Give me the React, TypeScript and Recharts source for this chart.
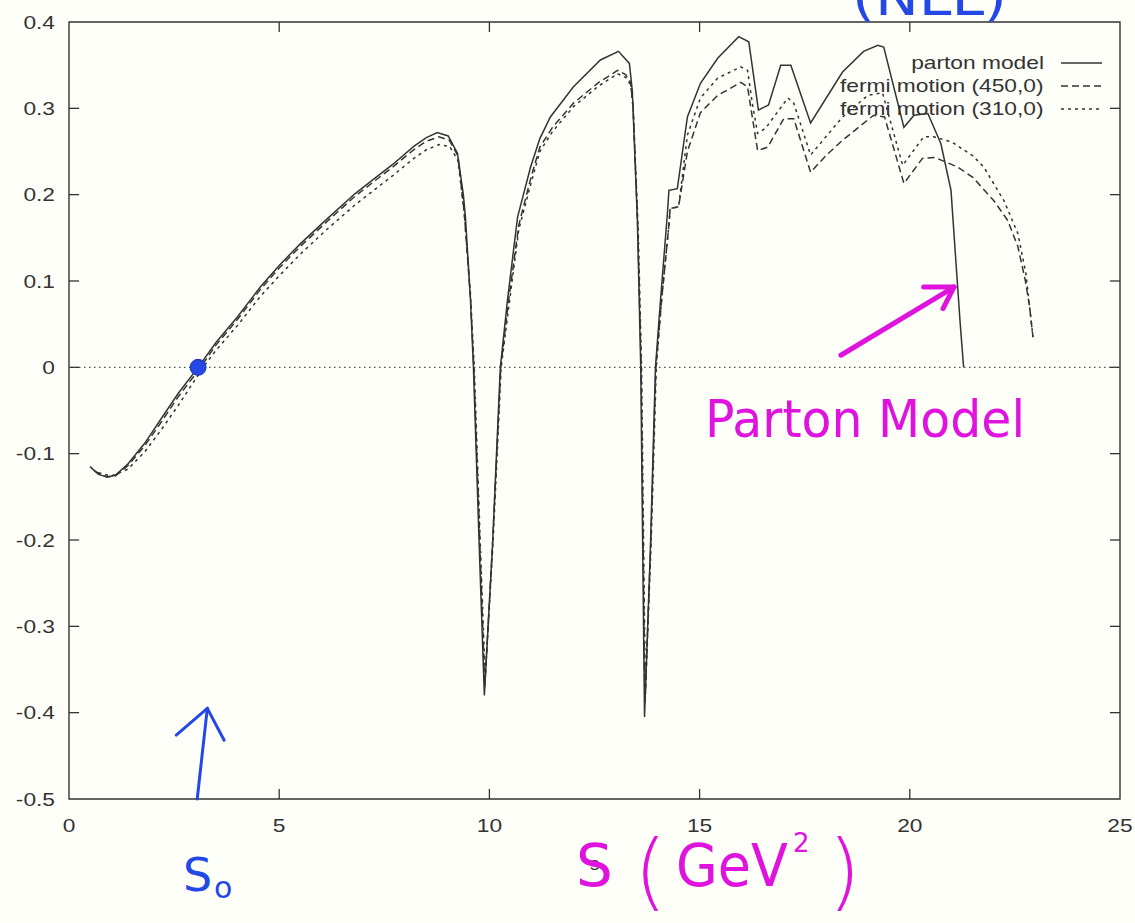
import {
  LineChart,
  Line,
  XAxis,
  YAxis,
  Legend,
  ReferenceArea,
  ReferenceLine,
  ReferenceDot,
} from "recharts";

type Pt = [number, number];

const xTicks = [0, 5, 10, 15, 20, 25];
const yTicks = [-0.5, -0.4, -0.3, -0.2, -0.1, 0, 0.1, 0.2, 0.3, 0.4];

// asymmetry vs s, one [s, value] pair per sample
const partonModel: Pt[] = [
  [0.5, -0.115], [0.7, -0.124], [0.9, -0.127], [1.1, -0.125], [1.4, -0.112],
  [1.8, -0.088], [2.2, -0.059], [2.6, -0.03], [3.07, 0.0], [3.5, 0.029],
  [4.0, 0.058], [4.55, 0.093], [5.0, 0.118], [5.5, 0.143], [6.14, 0.172],
  [6.8, 0.201], [7.3, 0.22], [7.7, 0.235], [8.2, 0.256], [8.5, 0.266],
  [8.76, 0.272], [9.02, 0.268], [9.24, 0.248], [9.38, 0.2], [9.43, 0.174],
  [9.55, 0.078], [9.62, 0.0], [9.76, -0.21], [9.88, -0.38], [10.07, -0.21],
  [10.26, 0.0], [10.43, 0.078], [10.67, 0.174], [10.98, 0.232], [11.2, 0.265],
  [11.45, 0.29], [12.0, 0.325], [12.64, 0.356], [13.07, 0.366], [13.33, 0.352],
  [13.4, 0.32], [13.52, 0.17], [13.6, 0.0], [13.69, -0.405], [13.83, -0.21],
  [13.95, 0.0], [14.07, 0.078], [14.24, 0.182], [14.27, 0.205], [14.47, 0.207],
  [14.71, 0.29], [15.02, 0.329], [15.43, 0.358], [15.93, 0.383], [16.17, 0.377],
  [16.4, 0.298], [16.64, 0.304], [16.93, 0.35], [17.17, 0.35], [17.64, 0.283],
  [18.4, 0.342], [18.9, 0.366], [19.24, 0.373], [19.38, 0.371], [19.86, 0.278],
  [20.1, 0.292], [20.43, 0.294], [20.74, 0.259], [20.98, 0.205], [21.1, 0.12],
  [21.2, 0.05], [21.28, 0.0],
];

const fermi450: Pt[] = [
  [0.6, -0.12], [0.9, -0.127], [1.1, -0.126], [1.4, -0.114], [1.8, -0.091],
  [2.2, -0.063], [2.6, -0.034], [3.1, -0.002], [3.5, 0.026], [4.0, 0.055],
  [4.55, 0.09], [5.0, 0.115], [5.5, 0.14], [6.14, 0.169], [6.8, 0.198],
  [7.3, 0.217], [7.7, 0.232], [8.2, 0.252], [8.5, 0.262], [8.8, 0.267],
  [9.05, 0.263], [9.25, 0.245], [9.4, 0.18], [9.55, 0.08], [9.63, 0.0],
  [9.77, -0.2], [9.89, -0.37], [10.08, -0.2], [10.27, 0.0], [10.45, 0.075],
  [10.7, 0.165], [11.0, 0.222], [11.2, 0.255], [11.5, 0.278], [12.0, 0.306],
  [12.6, 0.33], [13.05, 0.344], [13.24, 0.339], [13.36, 0.33], [13.42, 0.3],
  [13.53, 0.16], [13.61, 0.0], [13.7, -0.39], [13.84, -0.2], [13.96, 0.0],
  [14.1, 0.08], [14.27, 0.165], [14.3, 0.184], [14.5, 0.186], [14.71, 0.25],
  [15.02, 0.295], [15.43, 0.315], [15.98, 0.33], [16.14, 0.325], [16.38, 0.251],
  [16.62, 0.255], [17.0, 0.288], [17.24, 0.288], [17.64, 0.226], [18.0, 0.245],
  [18.4, 0.263], [19.14, 0.292], [19.4, 0.29], [19.86, 0.213], [20.3, 0.242],
  [20.6, 0.243], [21.14, 0.232], [21.5, 0.22], [22.0, 0.193], [22.33, 0.17],
  [22.57, 0.14], [22.75, 0.1], [22.85, 0.07], [22.93, 0.035],
];

const fermi310: Pt[] = [
  [0.7, -0.122], [1.0, -0.126], [1.4, -0.118], [1.8, -0.098], [2.2, -0.072],
  [2.6, -0.044], [3.19, 0.0], [3.5, 0.02], [4.0, 0.048], [4.55, 0.082],
  [5.0, 0.106], [5.5, 0.131], [6.14, 0.16], [6.8, 0.188], [7.3, 0.207],
  [7.7, 0.222], [8.2, 0.242], [8.5, 0.252], [8.8, 0.258], [9.05, 0.256],
  [9.25, 0.24], [9.4, 0.18], [9.55, 0.085], [9.64, 0.0], [9.78, -0.2],
  [9.9, -0.36], [10.09, -0.2], [10.28, 0.0], [10.46, 0.07], [10.7, 0.16],
  [11.0, 0.215], [11.2, 0.25], [11.5, 0.273], [12.0, 0.302], [12.6, 0.326],
  [13.05, 0.34], [13.24, 0.336], [13.36, 0.327], [13.42, 0.3], [13.54, 0.16],
  [13.62, 0.0], [13.71, -0.38], [13.85, -0.2], [13.97, 0.0], [14.1, 0.08],
  [14.27, 0.165], [14.3, 0.184], [14.5, 0.186], [14.71, 0.269], [15.02, 0.312],
  [15.43, 0.335], [15.98, 0.348], [16.14, 0.344], [16.26, 0.304], [16.38, 0.271],
  [16.57, 0.277], [17.1, 0.312], [17.24, 0.306], [17.64, 0.246], [18.4, 0.29],
  [19.0, 0.315], [19.35, 0.318], [19.83, 0.234], [20.33, 0.267], [20.57, 0.267],
  [21.0, 0.261], [21.5, 0.245], [21.76, 0.232], [22.24, 0.193], [22.57, 0.155],
  [22.76, 0.109], [22.93, 0.035],
];

// pen marks drawn over the plot, in (s, value)
const s0Point: Pt = [3.07, 0];
const s0Arrow: Pt[][] = [
  [[3.05, -0.5], [3.29, -0.395]],
  [[2.55, -0.426], [3.29, -0.395]],
  [[3.69, -0.432], [3.29, -0.395]],
];
const partonArrow: Pt[][] = [
  [[18.36, 0.014], [21.05, 0.093]],
  [[20.33, 0.093], [21.05, 0.093]],
  [[20.79, 0.068], [21.05, 0.093]],
];

const series = [
  { name: "parton model", points: partonModel, dash: undefined },
  { name: "fermi motion (450,0)", points: fermi450, dash: "7 4" },
  { name: "fermi motion (310,0)", points: fermi310, dash: "3 4" },
];

const FONT = "'Liberation Sans', Arial, Helvetica, sans-serif";
const INK = "#333";
const BLUE = "#2348e6";
const MAGENTA = "#e012de";
const FONT_SIZE = 18.5;
const STRETCH = 1.23; // the postscript Helvetica runs wide
const TICK_X = 0.24; // inward tick length along s
const TICK_Y = 0.0116; // inward tick length along value

function XTick({ x, y, payload }: any) {
  return (
    <text
      transform={`translate(${x},${y}) scale(${STRETCH},1)`}
      textAnchor="middle"
      dy="0.71em"
      fill={INK}
      fontSize={FONT_SIZE}
      fontFamily={FONT}
    >
      {payload.value}
    </text>
  );
}

function YTick({ x, y, payload }: any) {
  return (
    <text
      transform={`translate(${x},${y}) scale(${STRETCH},1)`}
      textAnchor="end"
      dy="0.355em"
      fill={INK}
      fontSize={FONT_SIZE}
      fontFamily={FONT}
    >
      {payload.value}
    </text>
  );
}

function LegendBox() {
  return (
    <div style={{ fontFamily: FONT, fontSize: FONT_SIZE, color: INK }}>
      {series.map((s) => (
        <div
          key={s.name}
          style={{
            display: "flex",
            justifyContent: "flex-end",
            alignItems: "center",
            height: 23,
          }}
        >
          <span
            style={{
              display: "inline-block",
              whiteSpace: "nowrap",
              transform: `scaleX(${STRETCH})`,
              transformOrigin: "right center",
            }}
          >
            {s.name}
          </span>
          <svg width={41} height={10} style={{ marginLeft: 17 }}>
            <line
              x1={0}
              x2={41}
              y1={5}
              y2={5}
              stroke={INK}
              strokeWidth={1.4}
              strokeDasharray={s.dash}
            />
          </svg>
        </div>
      ))}
    </div>
  );
}

export default function App() {
  const toRows = (pts: Pt[]) => pts.map(([s, v]) => ({ s, v }));

  const penSegments = (strokes: Pt[][], color: string, width: number, key: string) =>
    strokes.map((seg, i) => (
      <ReferenceLine
        key={`${key}-${i}`}
        segment={[
          { x: seg[0][0], y: seg[0][1] },
          { x: seg[1][0], y: seg[1][1] },
        ]}
        stroke={color}
        strokeWidth={width}
        strokeLinecap="round"
        ifOverflow="visible"
      />
    ));

  return (
    <div
      style={{
        position: "absolute",
        left: 0,
        top: 0,
        width: 1135,
        height: 923,
        background: "#fffffa",
        overflow: "hidden",
      }}
    >
      <LineChart
        width={1135}
        height={923}
        margin={{ top: 22, right: 15, left: 9, bottom: 94 }}
      >
        <XAxis
          type="number"
          dataKey="s"
          domain={[0, 25]}
          ticks={xTicks}
          allowDataOverflow
          axisLine={false}
          tickLine={false}
          tickSize={0}
          tickMargin={20}
          height={30}
          tick={<XTick />}
          label={{
            value: "s",
            position: "bottom",
            offset: 28,
            fill: INK,
            fontSize: FONT_SIZE,
            fontFamily: FONT,
          }}
        />
        <YAxis
          type="number"
          domain={[-0.5, 0.4]}
          ticks={yTicks}
          allowDataOverflow
          axisLine={false}
          tickLine={false}
          tickSize={0}
          tickMargin={14}
          width={60}
          tick={<YTick />}
        />

        {/* plot frame */}
        <ReferenceArea
          x1={0}
          x2={25}
          y1={-0.5}
          y2={0.4}
          fill="none"
          stroke={INK}
          strokeWidth={1.4}
          ifOverflow="visible"
        />
        {/* inward ticks on all four sides */}
        {xTicks.slice(1, -1).flatMap((t) => [
          <ReferenceLine
            key={`xb-${t}`}
            segment={[{ x: t, y: -0.5 }, { x: t, y: -0.5 + TICK_Y }]}
            stroke={INK}
            strokeWidth={1.3}
          />,
          <ReferenceLine
            key={`xt-${t}`}
            segment={[{ x: t, y: 0.4 }, { x: t, y: 0.4 - TICK_Y }]}
            stroke={INK}
            strokeWidth={1.3}
          />,
        ])}
        {yTicks.slice(1, -1).flatMap((t) => [
          <ReferenceLine
            key={`yl-${t}`}
            segment={[{ x: 0, y: t }, { x: TICK_X, y: t }]}
            stroke={INK}
            strokeWidth={1.3}
          />,
          <ReferenceLine
            key={`yr-${t}`}
            segment={[{ x: 25, y: t }, { x: 25 - TICK_X, y: t }]}
            stroke={INK}
            strokeWidth={1.3}
          />,
        ])}
        <ReferenceLine y={0} stroke="#555" strokeWidth={1.2} strokeDasharray="1.5 3.5" />

        {series.map((s) => (
          <Line
            key={s.name}
            name={s.name}
            data={toRows(s.points)}
            dataKey="v"
            type="linear"
            stroke={INK}
            strokeWidth={1.5}
            strokeDasharray={s.dash}
            dot={false}
            activeDot={false}
            isAnimationActive={false}
          />
        ))}

        <Legend
          layout="vertical"
          align="center"
          verticalAlign="middle"
          content={<LegendBox />}
          wrapperStyle={{ left: 812, top: 51, width: 290 }}
        />

        {penSegments(s0Arrow, BLUE, 3, "s0")}
        {penSegments(partonArrow, MAGENTA, 5, "pm")}
        <ReferenceDot
          x={s0Point[0]}
          y={s0Point[1]}
          r={8}
          fill={BLUE}
          stroke="#1a2fb0"
          strokeWidth={1}
          ifOverflow="visible"
        />
      </LineChart>

      <svg
        width={1135}
        height={923}
        style={{ position: "absolute", left: 0, top: 0, pointerEvents: "none" }}
        fontFamily="'DejaVu Sans', sans-serif"
      >
        <text x={852} y={15} fill={BLUE} fontSize={50} textLength={155} lengthAdjust="spacingAndGlyphs">
          (NLL)
        </text>
        <text x={183} y={891} fill={BLUE} fontSize={46}>
          S
        </text>
        <text x={214} y={898} fill={BLUE} fontSize={30}>
          o
        </text>
        <text x={705} y={437} fill={MAGENTA} fontSize={52} textLength={320} lengthAdjust="spacingAndGlyphs">
          Parton Model
        </text>
        <text x={576} y={886} fill={MAGENTA} fontSize={58}>
          S
        </text>
        <text x={634} y={900} fill={MAGENTA} fontSize={84} fontWeight={300}>
          (
        </text>
        <text x={676} y={886} fill={MAGENTA} fontSize={58} textLength={112} lengthAdjust="spacingAndGlyphs">
          GeV
        </text>
        <text x={793} y={852} fill={MAGENTA} fontSize={26}>
          2
        </text>
        <text x={828} y={900} fill={MAGENTA} fontSize={84} fontWeight={300}>
          )
        </text>
      </svg>
    </div>
  );
}
